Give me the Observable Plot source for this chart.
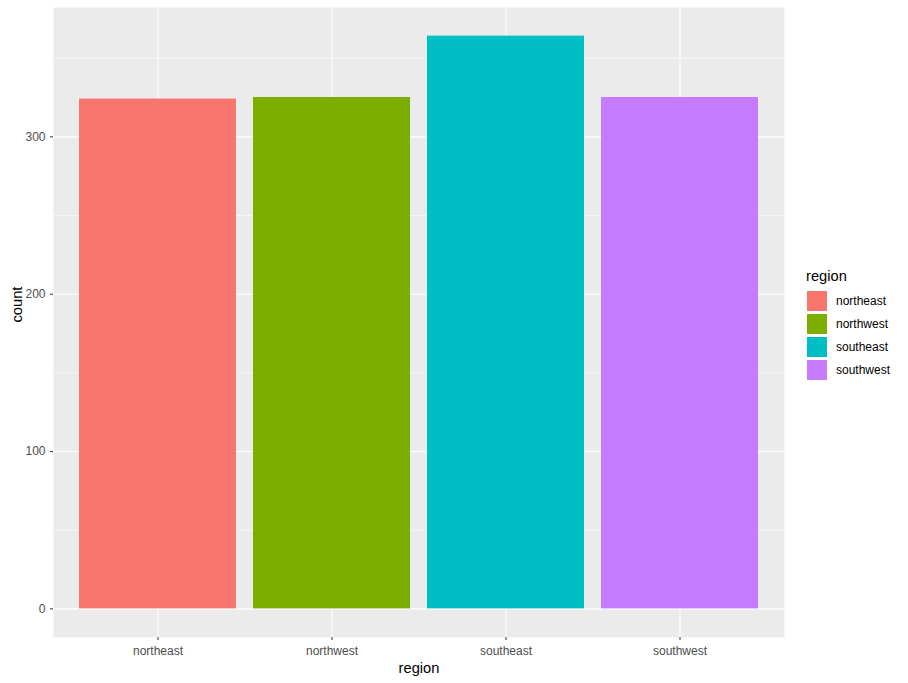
<!DOCTYPE html>
<html>
<head>
<meta charset="utf-8">
<script src="https://cdn.jsdelivr.net/npm/d3@7"></script>
<script src="https://cdn.jsdelivr.net/npm/@observablehq/plot@0.6"></script>
<style>
  html, body { margin: 0; padding: 0; background: #fff; }
  #wrap { position: relative; width: 908px; height: 683px; font-family: "Liberation Sans", Arial, sans-serif; }
  #legend { position: absolute; left: 806px; top: 269px; }
  #legend .title { font-size: 14.7px; color: #000; height: 20px; line-height: 14px; }
  #legend .row { display: flex; align-items: center; height: 23px; }
  #legend .key { width: 22px; height: 22px; margin-right: 8px; border: 0.5px solid #fff; box-sizing: border-box; }
  #legend .lab { font-size: 12px; color: #000; }
</style>
</head>
<body>
<div id="wrap"><div id="chart"></div><div id="legend"></div></div>
<script>
const regions = ["northeast", "northwest", "southeast", "southwest"];
const counts = [324, 325, 364, 325];
const colors = ["#F8766D", "#7CAE00", "#00BFC4", "#C77CFF"];
const majorTicks = [0, 100, 200, 300];
const minorTicks = [50, 150, 250, 350];

const data = regions.map((r, i) => ({region: r, count: counts[i]}));
const maxC = d3.max(counts);
const pad = maxC * 0.05;

const chart = Plot.plot({
  width: 908,
  height: 683,
  marginLeft: 53,
  marginRight: 124,
  marginTop: 7,
  marginBottom: 46,
  style: {fontFamily: "Liberation Sans, Arial, sans-serif", background: "#fff"},
  x: {domain: regions, paddingInner: 0.1, paddingOuter: 0.15, label: null},
  y: {domain: [-pad, maxC + pad], label: null},
  color: {domain: regions, range: colors},
  marks: [
    Plot.frame({fill: "#EBEBEB", stroke: "none"}),
    Plot.ruleY(minorTicks, {stroke: "#fff", strokeWidth: 0.55}),
    Plot.ruleY(majorTicks, {stroke: "#fff", strokeWidth: 1.1}),
    Plot.ruleX(regions, {x: d => d, stroke: "#fff", strokeWidth: 1.1}),
    Plot.barY(data, {x: "region", y: "count", fill: "region"}),
    Plot.axisY(majorTicks, {tickSize: 3, tickPadding: 5, stroke: "#333", fill: "#4D4D4D", fontSize: 12, label: null}),
    Plot.axisX(regions, {tickSize: 3, tickPadding: 6, stroke: "#333", fill: "#4D4D4D", fontSize: 12, label: null}),
    Plot.text(["count"], {frameAnchor: "left", dx: -36, rotate: -90, fontSize: 14.7, fill: "#000"}),
    Plot.text(["region"], {frameAnchor: "bottom", dy: 35, fontSize: 14.7, fill: "#000"})
  ]
});
document.getElementById("chart").appendChild(chart);

const leg = document.getElementById("legend");
const t = document.createElement("div");
t.className = "title"; t.textContent = "region";
leg.appendChild(t);
regions.forEach((r, i) => {
  const row = document.createElement("div"); row.className = "row";
  const k = document.createElement("div"); k.className = "key"; k.style.background = colors[i];
  const l = document.createElement("div"); l.className = "lab"; l.textContent = r;
  row.appendChild(k); row.appendChild(l); leg.appendChild(row);
});
</script>
</body>
</html>
